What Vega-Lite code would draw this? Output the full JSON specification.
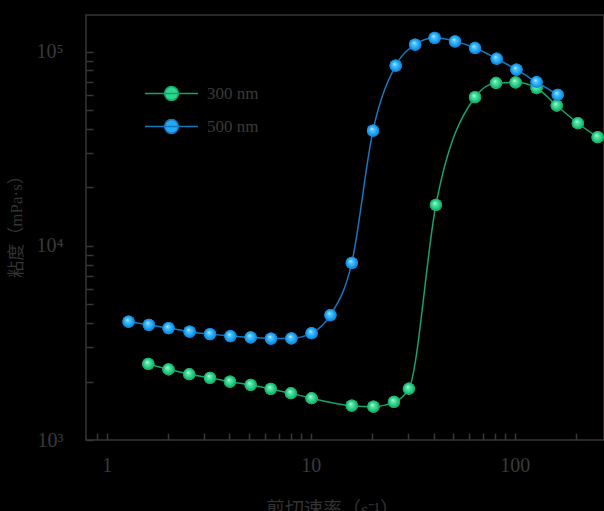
{
  "$schema": "https://vega.github.io/schema/vega-lite/v6.json",
  "width": 518,
  "height": 425,
  "autosize": {"type": "none"},
  "padding": {"left": 86, "top": 15, "right": 0, "bottom": 71},
  "background": "#000000",
  "config": {
    "view": {"stroke": "#3a3535", "strokeWidth": 1.5},
    "font": "Liberation Serif, Noto Sans CJK SC",
    "axis": {
      "domain": false,
      "tickColor": "#3a3535",
      "tickWidth": 1.5,
      "tickSize": -7,
      "grid": false,
      "labelColor": "#3a3a3a",
      "labelFont": "Liberation Serif",
      "labelFontSize": 20,
      "titleColor": "#333333",
      "titleFont": "Liberation Serif, Noto Sans CJK SC",
      "titleFontSize": 17,
      "titleFontWeight": "normal"
    },
    "legend": {
      "orient": "none",
      "legendX": 77,
      "legendY": 70,
      "title": null,
      "padding": 0,
      "symbolType": "M-3.84,0H3.84M1,0A1,1,0,1,1,-1,0A1,1,0,1,1,1,0Z",
      "symbolSize": 190,
      "symbolStrokeWidth": 1.5,
      "labelFont": "Liberation Serif",
      "labelFontSize": 17,
      "labelColor": "#3a3a3a",
      "labelOffset": 27,
      "rowPadding": 12,
      "labelExpr": "replace(datum.label, ' ', '\u2002')"
    }
  },
  "data": {
    "values": [
      {"series": "300 nm", "rate": 1.6, "visc": 2465},
      {"series": "300 nm", "rate": 2.01, "visc": 2313},
      {"series": "300 nm", "rate": 2.54, "visc": 2182},
      {"series": "300 nm", "rate": 3.21, "visc": 2090},
      {"series": "300 nm", "rate": 4.02, "visc": 1997},
      {"series": "300 nm", "rate": 5.08, "visc": 1922},
      {"series": "300 nm", "rate": 6.37, "visc": 1833},
      {"series": "300 nm", "rate": 8.0, "visc": 1741},
      {"series": "300 nm", "rate": 10.1, "visc": 1641},
      {"series": "300 nm", "rate": 15.9, "visc": 1502},
      {"series": "300 nm", "rate": 20.3, "visc": 1485},
      {"series": "300 nm", "rate": 25.6, "visc": 1571},
      {"series": "300 nm", "rate": 30.3, "visc": 1837},
      {"series": "300 nm", "rate": 41.1, "visc": 16250},
      {"series": "300 nm", "rate": 63.9, "visc": 58300},
      {"series": "300 nm", "rate": 81, "visc": 69000},
      {"series": "300 nm", "rate": 101, "visc": 69500},
      {"series": "300 nm", "rate": 128, "visc": 65000},
      {"series": "300 nm", "rate": 160.7, "visc": 52800},
      {"series": "300 nm", "rate": 204, "visc": 42800},
      {"series": "300 nm", "rate": 255, "visc": 36300},
      {"series": "500 nm", "rate": 1.28, "visc": 4070},
      {"series": "500 nm", "rate": 1.61, "visc": 3920},
      {"series": "500 nm", "rate": 2.01, "visc": 3770},
      {"series": "500 nm", "rate": 2.55, "visc": 3615},
      {"series": "500 nm", "rate": 3.21, "visc": 3510},
      {"series": "500 nm", "rate": 4.04, "visc": 3430},
      {"series": "500 nm", "rate": 5.08, "visc": 3380},
      {"series": "500 nm", "rate": 6.39, "visc": 3330},
      {"series": "500 nm", "rate": 8.04, "visc": 3340},
      {"series": "500 nm", "rate": 10.1, "visc": 3550},
      {"series": "500 nm", "rate": 12.5, "visc": 4400},
      {"series": "500 nm", "rate": 15.9, "visc": 8170},
      {"series": "500 nm", "rate": 20.2, "visc": 39200},
      {"series": "500 nm", "rate": 26.1, "visc": 84700},
      {"series": "500 nm", "rate": 32.5, "visc": 108700},
      {"series": "500 nm", "rate": 40.5, "visc": 117800},
      {"series": "500 nm", "rate": 51, "visc": 113000},
      {"series": "500 nm", "rate": 63.9, "visc": 104500},
      {"series": "500 nm", "rate": 81.6, "visc": 92000},
      {"series": "500 nm", "rate": 102, "visc": 80800},
      {"series": "500 nm", "rate": 128, "visc": 69800},
      {"series": "500 nm", "rate": 162.5, "visc": 60000}
    ]
  },
  "encoding": {
    "x": {
      "field": "rate", "type": "quantitative",
      "scale": {"type": "log", "domain": [0.792, 274], "nice": false},
      "axis": {
        "orient": "bottom",
        "values": [0.9, 1, 2, 3, 4, 5, 6, 7, 8, 9, 10, 20, 30, 40, 50, 60, 70, 80, 90, 100, 200],
        "labelExpr": "datum.value == 1 ? '1' : datum.value == 10 ? '10' : datum.value == 100 ? '100' : ''",
        "labelPadding": 22,
        "labelFlush": false,
        "labelOverlap": false,
        "title": "剪切速率（s⁻¹）",
        "titleFontSize": 19,
        "titleX": 246,
        "titleY": 69,
        "titleBaseline": "middle"
      }
    },
    "y": {
      "field": "visc", "type": "quantitative",
      "scale": {"type": "log", "domain": [1000, 154500], "nice": false},
      "axis": {
        "values": [1000, 2000, 3000, 4000, 5000, 6000, 7000, 8000, 9000, 10000, 20000, 30000, 40000, 50000, 60000, 70000, 80000, 90000, 100000],
        "labelExpr": "datum.value == 1000 ? '10³' : datum.value == 10000 ? '10⁴' : datum.value == 100000 ? '10⁵' : ''",
        "labelPadding": 30,
        "labelFlush": false,
        "labelOverlap": false,
        "title": "粘度（mPa·s）",
        "titleX": -70,
        "titleY": 207,
        "titleAngle": -90,
        "titleBaseline": "middle"
      }
    }
  },
  "layer": [
    {
      "mark": {"type": "line", "interpolate": "monotone", "strokeWidth": 1.5},
      "encoding": {
        "stroke": {
          "field": "series", "type": "nominal",
          "scale": {"domain": ["300 nm", "500 nm"], "range": ["#14a46c", "#1677bd"]},
          "legend": {}
        }
      }
    },
    {
      "mark": {"type": "circle", "size": 150, "opacity": 1, "strokeWidth": 0},
      "encoding": {
        "fill": {
          "field": "series", "type": "nominal",
          "scale": {"domain": ["300 nm", "500 nm"], "range": ["#2fd68c", "#22a8f7"]},
          "legend": {}
        }
      }
    },
    {
      "transform": [{"filter": "datum.series == '300 nm'"}],
      "mark": {
        "type": "circle", "size": 150, "opacity": 1, "strokeWidth": 0,
        "fill": {"gradient": "radial", "x1": 0.4, "y1": 0.35, "r1": 0, "x2": 0.5, "y2": 0.5, "r2": 0.5,
          "stops": [{"offset": 0, "color": "#e8fff4"}, {"offset": 0.25, "color": "#5fe8ad"}, {"offset": 0.7, "color": "#22cc80"}, {"offset": 1, "color": "#12a062"}]}
      }
    },
    {
      "transform": [{"filter": "datum.series == '500 nm'"}],
      "mark": {
        "type": "circle", "size": 150, "opacity": 1, "strokeWidth": 0,
        "fill": {"gradient": "radial", "x1": 0.4, "y1": 0.35, "r1": 0, "x2": 0.5, "y2": 0.5, "r2": 0.5,
          "stops": [{"offset": 0, "color": "#e6f7ff"}, {"offset": 0.25, "color": "#55c6ff"}, {"offset": 0.7, "color": "#1aa3f5"}, {"offset": 1, "color": "#0c7fd4"}]}
      }
    }
  ]
}
